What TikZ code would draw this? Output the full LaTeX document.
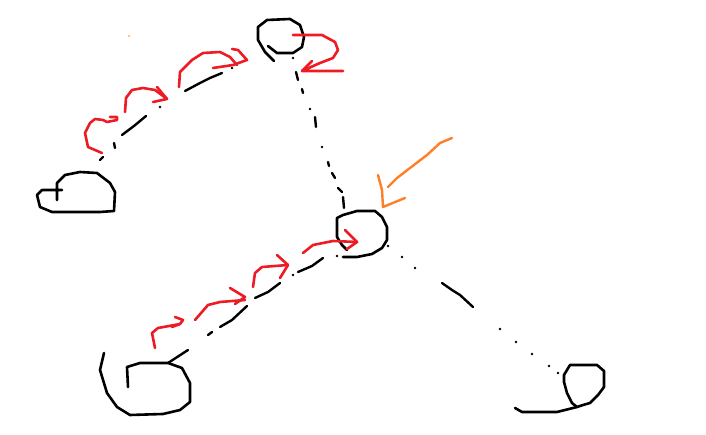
\documentclass[tikz,border=0pt]{standalone}
\usepackage{tikz}

\definecolor{paintred}{RGB}{237,28,36}
\definecolor{paintorange}{RGB}{255,127,39}

\begin{document}
\begin{tikzpicture}[x=1pt,y=-1pt,line join=round,line cap=round,
  blob/.style={line width=2.6pt,black},
  trail/.style={line width=2.4pt,black},
  curl/.style={line width=2.6pt,paintred},
  pointer/.style={line width=2.4pt,paintorange}]
  \useasboundingbox (0,0) rectangle (706,435);

  % blobs
  \draw[blob] (274,61) -- (265,52) -- (258,40) -- (258,27) -- (267,20) -- (290,19) -- (300,25) -- (304,37) -- (302,47) -- (293,53) -- (277,53) -- (268,46);
  \draw[blob] (57,200) -- (57,183) -- (65,175) -- (80,172) -- (97,173) -- (110,183) -- (115,192) -- (114,211) -- (100,212) -- (52,212) -- (40,207) -- (37,195) -- (42,190) -- (62,190);
  \draw[blob] (337,237) -- (337,218) -- (343,215) -- (357,211) -- (375,211) -- (382,217) -- (387,227) -- (387,240) -- (382,248) -- (372,254) -- (357,257) -- (343,257);
  \draw[blob] (337,237) -- (342,245) -- (347,250);
  \draw[blob] (104,353) -- (100,370) -- (107,393) -- (117,407) -- (130,415) -- (163,414) -- (180,410) -- (190,402) -- (190,383) -- (182,368) -- (168,363) -- (140,363) -- (127,367) -- (128,387);
  \draw[blob] (564,375) -- (570,365) -- (597,365) -- (604,371) -- (604,387) -- (598,395) -- (590,403) -- (583,405) -- (577,407) -- (572,403) -- (567,393) -- (564,382) -- cycle;
  \draw[blob] (515,408) -- (522,412) -- (557,412) -- (577,407);

  % broken trails
  \draw[trail] (100,160) -- (103,157);
  \draw[trail] (114,143) -- (115,148);
  \draw[trail] (122,135) -- (134,126) -- (146,116);
  \draw[trail] (185,91) -- (200,83) -- (210,78) -- (222,73);
  \draw[trail] (296,72) -- (298,80);
  \draw[trail] (302,89) -- (303,93);
  \draw[trail] (315,117) -- (316,127);
  \draw[trail] (328,162) -- (329,166);
  \draw[trail] (332,173) -- (335,178);
  \draw[trail] (338,188) -- (342,192);
  \draw[trail] (343,197) -- (344,208);
  \draw[trail] (168,363) -- (188,350);
  \draw[trail] (208,335) -- (212,332);
  \draw[trail] (220,327) -- (232,320) -- (247,306);
  \draw[trail] (255,298) -- (268,292) -- (280,283);
  \draw[trail] (298,272) -- (312,266) -- (323,258);
  \draw[trail] (442,283) -- (452,290) -- (460,295) -- (473,307);
  \foreach \p in {(160,107),(232,68),(293,58),(310,109),(322,147),(337,256),(293,275),
                  (402,257),(415,268),(500,329),(516,342),(532,354),(549,366),(558,373),(388,246)}
    \fill \p circle (1.3pt);

  % red curls
  \draw[curl] (102,153) -- (88,147) -- (85,133) -- (90,123) -- (95,119) -- (103,120) -- (107,122) -- (117,120) -- (117,117) -- (110,117);
  \draw[curl] (125,112) -- (126,98) -- (132,90) -- (143,88) -- (155,90) -- (167,99) -- (153,102);
  \draw[curl] (157,87) -- (167,99);
  \draw[curl] (179,87) -- (180,72) -- (192,60) -- (203,53) -- (220,52) -- (230,57) -- (237,65);
  \draw[curl] (232,49) -- (238,50) -- (247,60) -- (233,65) -- (213,68);
  \draw[curl] (293,35) -- (322,35) -- (335,42) -- (338,50) -- (333,58) -- (320,63) -- (302,71) -- (343,71);
  \draw[curl] (312,61) -- (302,71);
  \draw[curl] (155,348) -- (152,333) -- (158,328) -- (180,324);
  \draw[curl] (175,317) -- (183,320) -- (180,324) -- (172,327);
  \draw[curl] (195,320) -- (208,305) -- (220,302) -- (245,300);
  \draw[curl] (230,288) -- (245,297) -- (235,304);
  \draw[curl] (253,287) -- (255,273) -- (262,267) -- (288,265);
  \draw[curl] (277,255) -- (288,265) -- (280,278);
  \draw[curl] (303,253) -- (313,245) -- (333,241) -- (357,242);
  \draw[curl] (345,230) -- (357,242) -- (347,249);

  % orange pointer
  \draw[pointer] (452,138) -- (440,143) -- (427,155) -- (410,168) -- (397,178) -- (388,187);
  \draw[pointer] (378,175) -- (382,190) -- (383,207) -- (405,198);
  \fill[paintorange] (129,36) circle (0.9pt);
\end{tikzpicture}
\end{document}
